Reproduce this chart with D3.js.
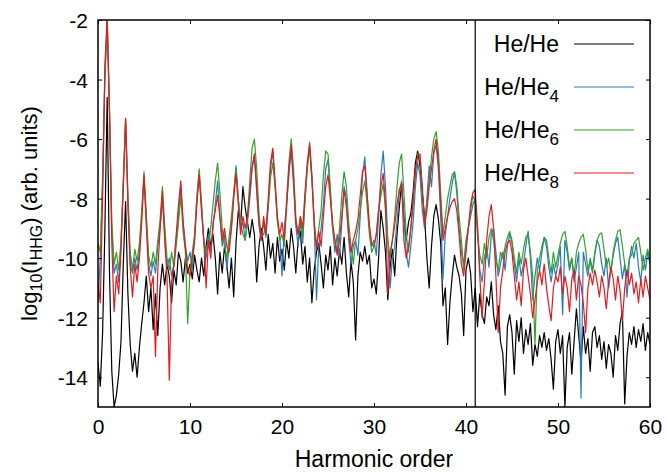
<!DOCTYPE html>
<html>
<head>
<meta charset="utf-8">
<script src="https://cdn.jsdelivr.net/npm/d3@7"></script>
<style>
  body { margin: 0; background: #fff; }
  text { font-family: "Liberation Sans", Arial, sans-serif; fill: #000; }
</style>
</head>
<body>
<div id="chart"></div>
<script>
// Spectra sampled every 0.25 harmonic order, from 0 to 60 (four values per line)
const harmonicStep = 0.25;

const heHe = [
  -13.5, -14.3, -12.5, -9.0,   -4.6, -10.5, -13.8, -15.0,   -14.6, -13.9, -12.8, -10.2,
  -8.1, -11.2, -12.9, -13.8,   -13.2, -14.0, -13.0, -12.2,  -11.5, -10.6, -11.8, -11.0,
  -12.4, -11.2, -12.6, -11.0,  -10.2, -10.9, -10.2, -10.6,  -11.5, -10.4, -10.9, -9.8,
  -10.1, -10.8, -10.0, -10.5,  -10.2, -10.7, -9.9, -10.4,   -10.8, -10.0, -10.6, -9.6,
  -9.0, -9.6, -9.2, -10.0,     -11.2, -9.8, -10.5, -9.6,    -10.2, -11.0, -10.0, -11.3,
  -9.5, -8.4, -8.9, -7.6,      -8.3, -8.8, -9.3, -8.7,      -9.2, -10.8, -9.6, -9.0,
  -9.6, -10.4, -9.2, -10.0,    -9.5, -10.5, -9.3, -10.1,    -9.7, -10.4, -9.4, -10.0,
  -9.0, -9.6, -10.5, -9.4,     -9.1, -10.2, -9.6, -10.8,    -10.0, -11.5, -10.4, -9.8,
  -9.5, -10.2, -11.0, -9.9,    -10.4, -9.6, -10.9, -10.0,   -10.6, -9.7, -10.2, -9.3,
  -10.5, -11.3, -10.1, -10.8,  -12.75, -10.6, -9.8, -10.1,  -9.6, -10.2, -9.9, -11.0,
  -10.7, -11.2, -10.0, -8.4,   -9.0, -9.8, -11.4, -10.3,    -9.7, -10.6, -9.2, -8.3,
  -7.5, -8.6, -9.4, -8.8,      -8.5, -7.8, -6.8, -6.4,      -6.9, -7.8, -8.6, -10.0,
  -11.0, -9.6, -8.6, -8.2,     -8.7, -9.5, -11.6, -11.0,    -12.9, -11.5, -10.6, -9.9,
  -10.3, -10.6, -11.2, -12.6,  -10.4, -10.0, -10.5, -11.8,  -11.0, -12.3, -11.2, -11.9,
  -12.2, -11.3, -11.6, -10.8,  -11.9, -12.4, -11.6, -12.8,  -13.2, -14.6, -12.3, -11.9,
  -12.5, -13.9, -12.1, -12.8,  -12.0, -13.2, -12.4, -12.9,  -12.2, -13.6, -12.9, -13.3,
  -12.6, -13.0, -12.5, -13.1,  -12.7, -13.4, -14.4, -12.8,  -12.4, -13.2, -12.6, -15.0,
  -13.0, -12.5, -13.9, -12.8,  -11.7, -12.6, -13.5, -12.3,  -13.2, -12.7, -13.8, -12.5,
  -12.3, -13.0, -12.6, -13.4,  -12.8, -13.7, -12.9, -13.2,  -14.0, -12.6, -13.1, -12.2,
  -11.8, -14.9, -13.3, -12.5,  -12.9, -12.3, -13.0, -12.4,  -12.8, -12.2, -13.1, -12.5,
  -12.9
];

const heHe4 = [
  -11.5, -10.0, -7.5, -4.0,    -2.1, -5.0, -9.0, -10.5,     -10.2, -10.8, -9.5, -7.5,
  -5.4, -8.0, -10.2, -10.5,    -10.0, -10.4, -9.8, -8.6,    -7.3, -8.7, -10.2, -10.6,
  -10.1, -10.5, -9.6, -9.0,    -8.0, -9.2, -10.3, -10.0,    -10.6, -10.2, -9.4, -8.6,
  -7.6, -8.8, -9.6, -10.1,     -9.8, -10.4, -9.3, -8.0,     -7.2, -8.3, -9.5, -10.0,
  -9.2, -9.8, -9.0, -8.2,      -7.4, -8.6, -9.6, -9.2,      -10.4, -9.6, -9.0, -7.9,
  -6.9, -8.0, -9.0, -8.8,      -9.4, -8.8, -8.0, -7.0,      -6.6, -7.8, -8.9, -9.4,
  -8.8, -9.3, -8.3, -7.0,      -6.4, -7.6, -8.8, -9.2,      -10.6, -9.0, -8.2, -7.2,
  -6.4, -7.5, -8.9, -9.6,      -8.8, -9.5, -8.0, -6.9,      -6.1, -7.2, -8.8, -11.4,
  -9.6, -9.0, -8.2, -7.0,      -6.7, -7.8, -9.0, -9.8,      -9.2, -10.0, -8.8, -7.6,
  -8.0, -9.4, -10.2, -9.6,     -9.4, -9.9, -8.6, -7.2,      -6.6, -7.8, -9.0, -9.6,
  -9.4, -9.9, -8.6, -7.2,      -6.4, -7.6, -9.4, -11.0,     -10.0, -9.6, -8.8, -7.8,
  -7.4, -8.6, -9.8, -10.3,     -9.6, -8.8, -7.6, -6.8,      -7.2, -8.4, -9.0, -8.0,
  -6.9, -7.6, -6.5, -6.2,      -7.0, -8.6, -10.7, -9.2,     -8.6, -8.0, -7.5, -7.1,
  -7.8, -9.0, -9.8, -10.2,     -9.4, -9.0, -8.6, -8.2,      -8.0, -8.9, -10.4, -10.8,
  -10.0, -9.6, -10.3, -9.2,    -9.0, -9.8, -10.6, -10.2,    -9.8, -10.4, -9.6, -9.2,
  -9.5, -10.2, -10.8, -10.0,   -10.6, -10.2, -9.6, -9.1,    -10.0, -11.4, -10.6, -10.0,
  -10.4, -9.8, -9.3, -9.6,     -10.3, -10.8, -10.2, -10.6,  -10.2, -9.6, -11.9, -9.4,
  -9.8, -10.4, -10.0, -10.8,   -10.3, -9.8, -14.7, -9.8,    -10.2, -10.6, -10.0, -10.4,
  -9.8, -9.4, -9.6, -10.2,     -10.6, -10.0, -11.0, -10.4,  -9.9, -9.5, -9.3, -10.0,
  -10.7, -10.2, -11.3, -10.1,  -9.6, -10.0, -9.5, -10.3,    -10.8, -9.9, -10.4, -9.8,
  -10.2
];

const heHe6 = [
  -9.5, -9.8, -7.2, -3.8,      -2.0, -5.0, -8.8, -10.2,     -9.8, -10.4, -9.4, -7.4,
  -5.3, -7.9, -9.8, -10.4,     -9.7, -10.1, -9.5, -8.4,     -7.1, -8.5, -9.9, -10.3,
  -9.8, -10.2, -9.4, -8.7,     -7.6, -8.9, -10.0, -10.4,    -9.8, -10.3, -9.6, -8.8,
  -7.9, -9.1, -9.8, -12.2,     -10.4, -9.8, -9.2, -7.9,     -7.0, -8.1, -9.4, -9.8,
  -9.6, -9.0, -8.2, -7.4,      -6.8, -7.8, -9.0, -9.6,      -10.0, -9.3, -8.6, -7.8,
  -7.0, -8.0, -8.8, -9.2,      -9.4, -8.6, -7.4, -6.3,      -6.0, -7.0, -8.5, -9.3,
  -9.2, -8.9, -8.3, -7.3,      -6.8, -7.6, -8.7, -9.4,      -9.2, -9.6, -8.0, -6.8,
  -6.0, -7.0, -8.6, -9.2,      -8.6, -9.3, -8.1, -7.0,      -6.3, -7.4, -8.7, -9.6,
  -9.0, -8.4, -7.2, -6.4,      -6.5, -7.6, -9.0, -9.4,      -9.8, -9.0, -7.9, -7.1,
  -7.6, -8.8, -9.6, -10.2,     -9.4, -9.0, -8.4, -7.8,      -7.4, -8.2, -9.2, -9.8,
  -9.6, -9.2, -8.4, -7.9,      -7.5, -8.4, -9.4, -10.0,     -9.4, -8.6, -7.6, -6.8,
  -6.5, -7.8, -9.2, -9.8,      -9.0, -8.2, -7.2, -6.5,      -6.6, -7.8, -8.8, -8.2,
  -7.4, -6.6, -6.0, -5.75,     -6.4, -7.8, -9.2, -8.6,      -8.0, -7.6, -7.2, -7.1,
  -7.6, -8.6, -9.4, -10.4,     -9.6, -9.0, -8.4, -7.9,      -8.1, -9.2, -9.9, -10.2,
  -9.5, -10.0, -9.3, -9.0,     -9.4, -10.1, -10.4, -9.8,    -10.0, -9.6, -9.3, -9.1,
  -9.4, -10.0, -10.5, -9.8,    -10.2, -9.7, -9.3, -9.2,     -9.8, -10.6, -12.9, -10.4,
  -10.0, -9.6, -9.3, -9.4,     -10.0, -10.5, -9.8, -10.3,   -9.9, -9.5, -9.2, -9.1,
  -9.6, -10.3, -10.0, -10.6,   -9.8, -9.5, -9.3, -9.2,      -9.7, -10.4, -10.1, -10.5,
  -9.9, -9.4, -9.2, -9.15,     -9.7, -10.3, -10.0, -10.5,   -9.8, -9.4, -9.1, -9.05,
  -9.6, -10.2, -10.6, -10.0,   -9.9, -9.5, -9.4, -9.3,      -9.8, -10.4, -10.0, -9.7,
  -10.1
];

const heHe8 = [
  -10.8, -11.5, -8.0, -3.5,    -1.9, -5.2, -9.5, -11.8,     -10.6, -11.2, -9.8, -7.6,
  -5.3, -8.2, -10.3, -11.3,    -10.2, -10.8, -10.0, -8.8,   -7.2, -8.9, -10.5, -11.0,
  -10.6, -13.3, -10.4, -9.0,   -7.75, -9.4, -10.6, -14.1,   -10.8, -10.2, -9.2, -8.2,
  -7.4, -8.8, -9.6, -10.4,     -10.6, -10.0, -9.4, -8.2,    -7.2, -8.4, -9.4, -11.0,
  -9.4, -10.0, -8.8, -8.4,     -7.9, -8.6, -9.4, -9.0,      -9.6, -9.8, -9.0, -8.0,
  -7.15, -8.2, -9.2, -8.6,     -9.0, -8.6, -7.8, -6.9,      -6.5, -7.6, -8.8, -9.4,
  -8.6, -9.2, -8.0, -6.8,      -6.3, -7.4, -8.6, -9.2,      -8.8, -9.4, -8.3, -7.0,
  -6.2, -7.3, -8.8, -9.2,      -8.6, -9.0, -7.8, -6.8,      -6.2, -7.3, -8.9, -9.7,
  -9.1, -9.6, -8.6, -7.6,      -7.2, -8.0, -8.8, -9.4,      -9.9, -9.4, -8.6, -7.7,
  -8.3, -9.2, -9.8, -9.4,      -9.1, -8.7, -7.9, -7.1,      -6.9, -7.9, -8.9, -9.5,
  -9.6, -9.2, -8.4, -7.6,      -7.15, -8.2, -11.2, -9.8,    -9.4, -8.9, -8.2, -7.7,
  -7.5, -9.4, -10.0, -9.6,     -9.0, -8.0, -7.0, -6.6,      -6.5, -7.6, -8.9, -8.4,
  -7.6, -7.0, -6.4, -6.0,      -6.8, -8.2, -9.4, -9.0,      -8.6, -8.3, -8.1, -8.0,
  -8.4, -9.2, -10.2, -10.6,    -9.8, -9.0, -8.2, -7.8,      -7.7, -9.0, -10.6, -12.0,
  -10.8, -9.4, -8.6, -8.2,     -9.0, -10.6, -12.5, -11.0,   -10.4, -9.8, -9.5, -9.4,
  -9.8, -10.6, -11.4, -10.8,   -11.6, -10.4, -10.0, -10.6,  -11.2, -12.0, -11.4, -10.8,
  -10.4, -10.9, -10.2, -11.0,  -11.6, -12.1, -11.0, -10.6,  -10.8, -10.3, -11.2, -10.6,
  -11.0, -11.8, -10.7, -10.4,  -11.4, -10.6, -10.9, -11.5,  -12.5, -11.0, -10.5, -10.9,
  -10.4, -10.8, -11.3, -10.6,  -11.0, -11.7, -10.8, -10.3,  -10.7, -11.4, -10.6, -11.1,
  -12.1, -11.0, -10.4, -10.9,  -10.5, -11.2, -10.8, -11.5,  -10.7, -11.3, -10.6, -11.0,
  -11.4
];

const seriesNames = ["He/He", "He/He4", "He/He6", "He/He8"];
const seriesColors = ["#000000", "#2a7ab9", "#34a02c", "#e6191e"];
const seriesValues = [heHe, heHe4, heHe6, heHe8];

const xTicks = [0, 10, 20, 30, 40, 50, 60];
const yTicks = [-14, -12, -10, -8, -6, -4, -2];
const markerOrder = 41;

const width = 668, height = 472;
const margin = {top: 20, right: 18, bottom: 65, left: 98};
const plotW = width - margin.left - margin.right;
const plotH = height - margin.top - margin.bottom;

const svg = d3.select("#chart").append("svg")
    .attr("width", width)
    .attr("height", height);

const x = d3.scaleLinear().domain([0, 60]).range([0, plotW]);
const y = d3.scaleLinear().domain([-15, -2]).range([plotH, 0]);

const g = svg.append("g")
    .attr("transform", `translate(${margin.left}, ${margin.top})`);

g.append("clipPath").attr("id", "plot-clip")
  .append("rect").attr("width", plotW).attr("height", plotH);

// spectra
const line = d3.line()
    .x((d, i) => x(i * harmonicStep))
    .y(d => y(d));

const traces = g.append("g").attr("clip-path", "url(#plot-clip)");
seriesValues.forEach((vals, k) => {
    traces.append("path")
        .datum(vals)
        .attr("fill", "none")
        .attr("stroke", seriesColors[k])
        .attr("stroke-width", 1.2)
        .attr("stroke-linejoin", "round")
        .attr("d", line);
});

// vertical marker line
g.append("line")
    .attr("x1", x(markerOrder)).attr("x2", x(markerOrder))
    .attr("y1", 0).attr("y2", plotH)
    .attr("stroke", "#000").attr("stroke-width", 1.2);

// axes, gnuplot style: inward ticks mirrored on all sides
const tickLen = 4;
const plainNum = d => String(d);   // hyphen-minus like the original
const xAxis = g.append("g")
    .attr("transform", `translate(0, ${plotH})`)
    .call(d3.axisBottom(x).tickValues(xTicks).tickFormat(plainNum)
        .tickSizeInner(-tickLen).tickSizeOuter(0).tickPadding(12));
const yAxis = g.append("g")
    .call(d3.axisLeft(y).tickValues(yTicks).tickFormat(plainNum)
        .tickSizeInner(-tickLen).tickSizeOuter(0).tickPadding(10));
g.append("g")
    .call(d3.axisTop(x).tickValues(xTicks).tickSizeInner(-tickLen).tickSizeOuter(0).tickFormat(""));
g.append("g")
    .attr("transform", `translate(${plotW}, 0)`)
    .call(d3.axisRight(y).tickValues(yTicks).tickSizeInner(-tickLen).tickSizeOuter(0).tickFormat(""));

g.selectAll(".domain").remove();
g.selectAll(".tick line").attr("stroke", "#000").attr("stroke-width", 1);
[xAxis, yAxis].forEach(a => a.selectAll("text")
    .style("font-family", "'Liberation Sans', Arial, sans-serif")
    .style("font-size", "21px"));
yAxis.selectAll("text").attr("dy", "0.36em");
xAxis.selectAll("text").attr("dy", "0.72em");

g.append("rect")
    .attr("width", plotW).attr("height", plotH)
    .attr("fill", "none").attr("stroke", "#000").attr("stroke-width", 1.5);

// axis titles
svg.append("text")
    .attr("x", margin.left + plotW / 2)
    .attr("y", 467)
    .attr("text-anchor", "middle")
    .style("font-size", "23px")
    .text("Harmonic order");

const yTitle = svg.append("text")
    .attr("transform", `translate(37, ${margin.top + plotH / 2}) rotate(-90)`)
    .attr("text-anchor", "middle")
    .style("font-size", "22px");
yTitle.append("tspan").text("log");
yTitle.append("tspan").attr("dy", 5).style("font-size", "16px").text("10");
yTitle.append("tspan").attr("dy", -5).text("(I");
yTitle.append("tspan").attr("dy", 5).style("font-size", "16px").text("HHG");
yTitle.append("tspan").attr("dy", -5).text(") (arb. units)");

// legend
const legend = svg.append("g");
seriesNames.forEach((name, k) => {
    const ly = 44 + k * 43;
    const t = legend.append("text")
        .attr("x", 559).attr("y", ly + 8)
        .attr("text-anchor", "end")
        .style("font-size", "23px");
    const sub = name.match(/\d$/);
    if (sub) {
        t.append("tspan").text(name.slice(0, -1));
        t.append("tspan").attr("dy", 7).style("font-size", "17px").text(sub[0]);
    } else {
        t.text(name);
    }
    legend.append("line")
        .attr("x1", 574).attr("x2", 634)
        .attr("y1", ly).attr("y2", ly)
        .attr("stroke", seriesColors[k]).attr("stroke-width", 1.2);
});
</script>
</body>
</html>
